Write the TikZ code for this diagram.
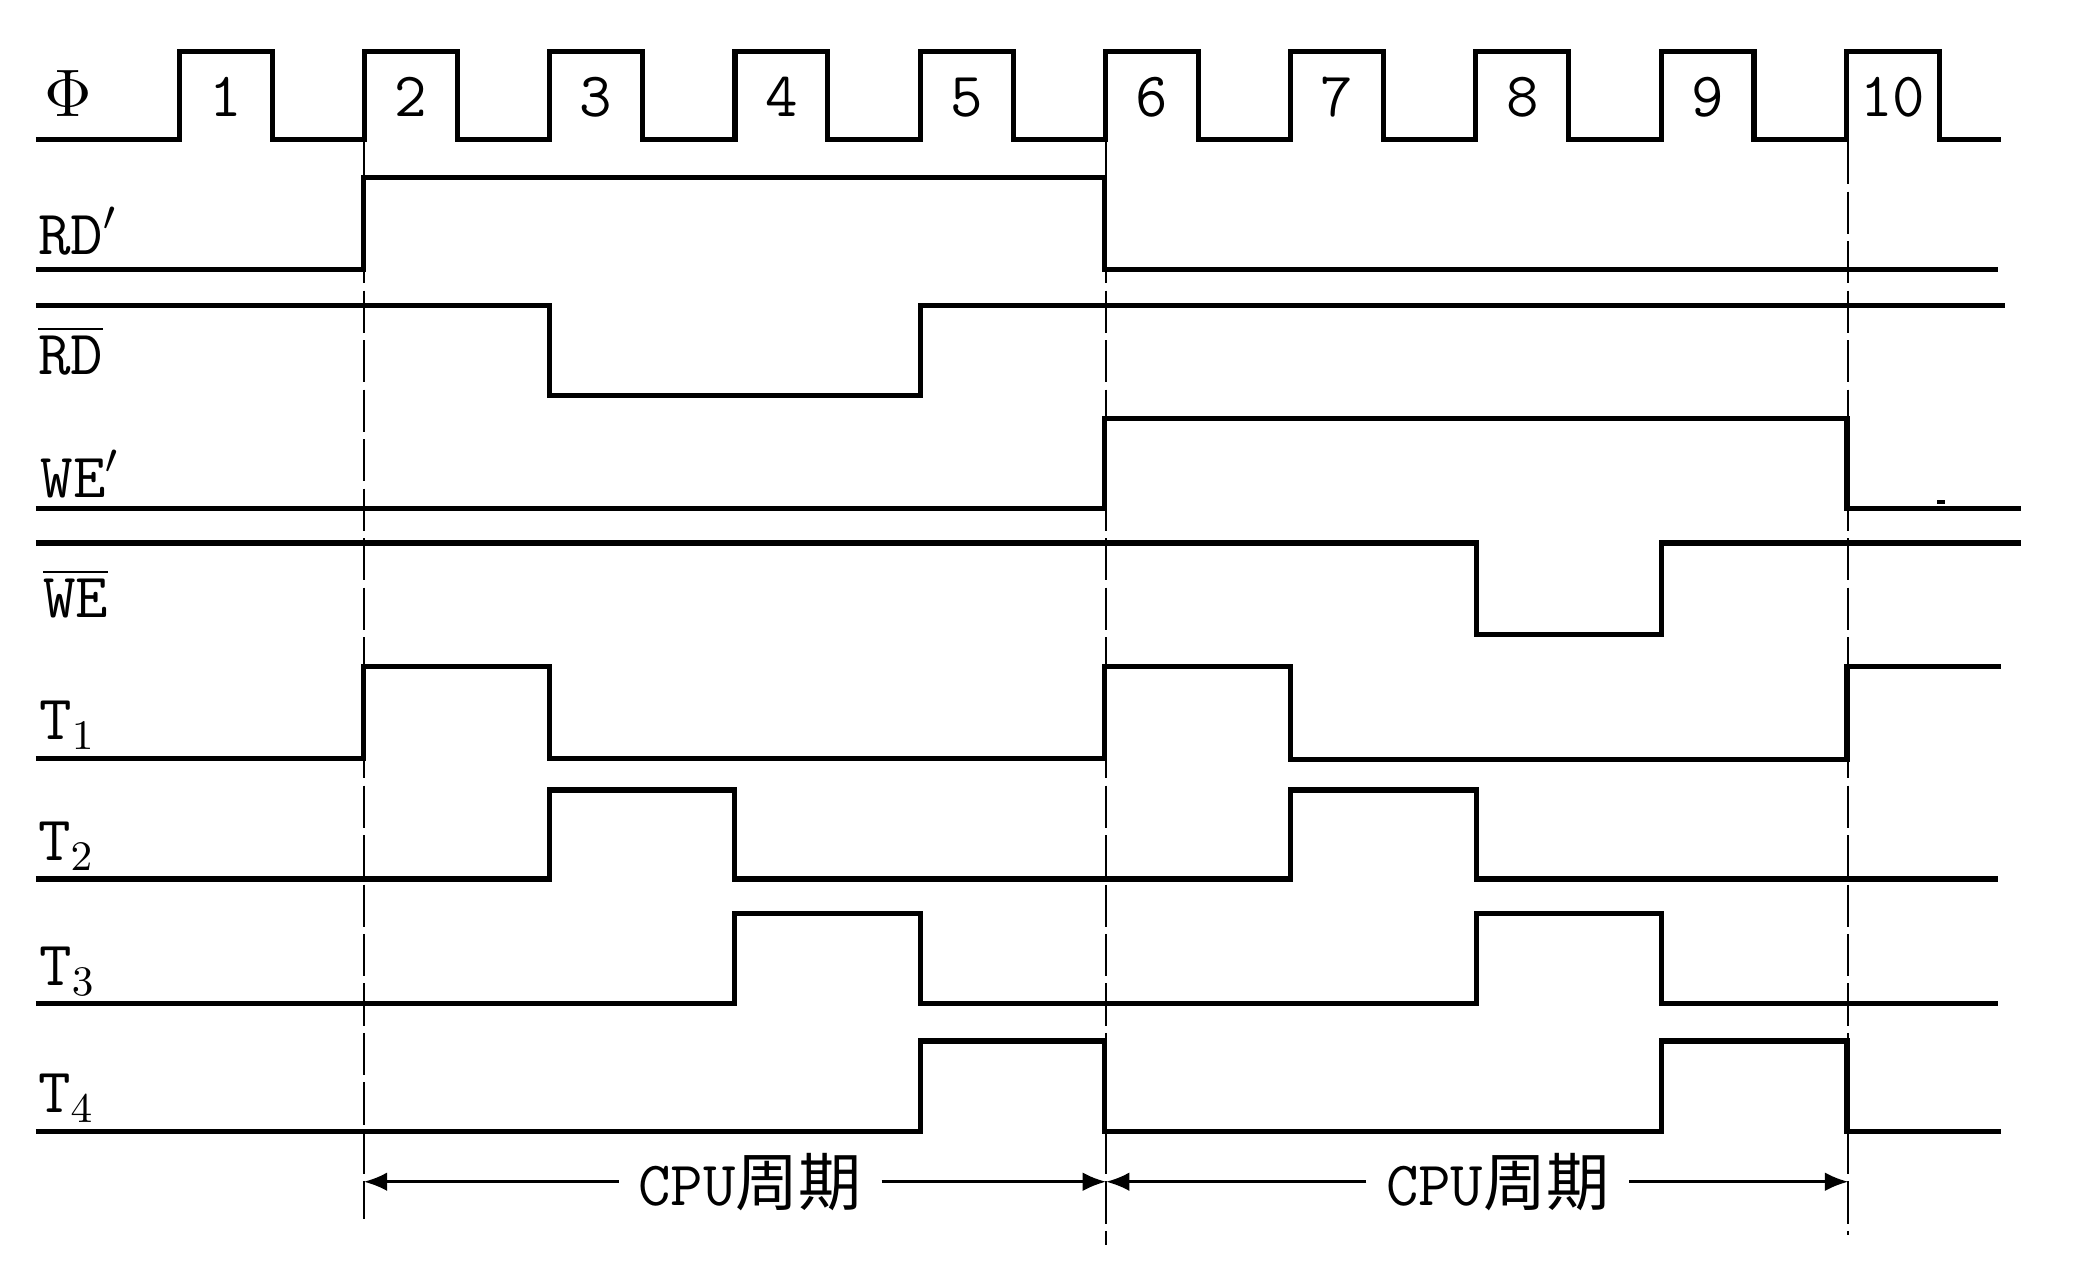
\documentclass[tikz,border=0pt]{standalone}
\usepackage{fontspec}
\usepackage{tikz}
\usetikzlibrary{arrows.meta}
\newfontfamily\cjk{Noto Sans CJK SC}
\newcommand{\sigfont}{\fontsize{13.5}{16}\selectfont\ttfamily}
\tikzset{
  sig/.style={line width=1.1pt,line join=miter},
  guide/.style={line width=0.5pt,dash pattern=on 9pt off 1.6pt},
  cycarrow/.style={-{Latex[length=5pt,width=4pt]},line width=0.6pt},
  siglabel/.style={anchor=base west,inner sep=0pt,font=\sigfont},
  clknum/.style={anchor=base,inner sep=0pt,font=\sigfont},
  cyclabel/.style={inner xsep=4pt,inner ysep=0pt,font=\sigfont},
}

\begin{document}
\begin{tikzpicture}[x=0.01cm,y=-0.01cm]
  \useasboundingbox (0,0) rectangle (1568,961);
  \node[siglabel] (phi) at (33,88)  {$\Phi$};
  \node[siglabel] (rdp) at (28,192) {RD$'$};
  \node[siglabel] (rdn) at (28,282) {$\overline{\mbox{RD}}$};
  \node[siglabel] (wep) at (30,375) {WE$'$};
  \node[siglabel] (wen) at (32,465) {$\overline{\mbox{WE}}$};
  \node[siglabel] (ta)  at (29,557) {T$_1$};
  \node[siglabel] (tb)  at (28,648) {T$_2$};
  \node[siglabel] (tc)  at (29,742) {T$_3$};
  \node[siglabel] (td)  at (28,838) {T$_4$};
  \draw[sig] (27,105) \foreach \k in {1,...,10} {
      -- ({135+(\k-1)*139.5},105) -- ++(0,-66) -- ++(70,0) -- ++(0,66)} -- (1507,105);
  \foreach \k in {1,...,10}
    \node[clknum] (n\k) at ({170+(\k-1)*139.5},88) {\k};
  \draw[sig] (27,203) -- (274,203) -- (274,134) -- (832,134) -- (832,203) -- (1505,203);
  \draw[sig] (27,230) -- (414,230) -- (414,298) -- (693,298) -- (693,230) -- (1510,230);
  \draw[sig] (27,383) -- (832,383) -- (832,315) -- (1391,315) -- (1391,383) -- (1522,383);
  \draw[sig] (27,409) -- (1112,409) -- (1112,478) -- (1251,478) -- (1251,409) -- (1522,409);
  \draw[sig] (27,571) -- (274,571) -- (274,502) -- (414,502) -- (414,571) -- (832,571)
    -- (832,502) -- (972,502) -- (972,572) -- (1391,572) -- (1391,502) -- (1507,502);
  \draw[sig] (27,662) -- (414,662) -- (414,595) -- (553,595) -- (553,662) -- (972,662)
    -- (972,595) -- (1112,595) -- (1112,662) -- (1505,662);
  \draw[sig] (27,756) -- (553,756) -- (553,688) -- (693,688) -- (693,756) -- (1112,756)
    -- (1112,688) -- (1251,688) -- (1251,756) -- (1505,756);
  \draw[sig] (27,852) -- (693,852) -- (693,784) -- (832,784) -- (832,852) -- (1251,852)
    -- (1251,784) -- (1391,784) -- (1391,852) -- (1507,852);
  \draw[line width=0.7pt] (1459,378) -- (1465,378);
  \coordinate (g1t) at (274,107);  \coordinate (g1b) at (274,918);
  \coordinate (g2t) at (833,107);  \coordinate (g2b) at (833,938);
  \coordinate (g3t) at (1392,107); \coordinate (g3b) at (1392,930);
  \draw[guide] (g1t) -- (g1b);
  \draw[guide] (g2t) -- (g2b);
  \draw[guide] (g3t) -- (g3b);
  \node[cyclabel] (cyc1) at (565,890) {CPU{\cjk 周期}};
  \node[cyclabel] (cyc2) at (1128,890) {CPU{\cjk 周期}};
  \draw[cycarrow] (cyc1.west) -- (g1t |- cyc1.west);
  \draw[cycarrow] (cyc1.east) -- (g2t |- cyc1.east);
  \draw[cycarrow] (cyc2.west) -- (g2t |- cyc2.west);
  \draw[cycarrow] (cyc2.east) -- (g3t |- cyc2.east);
\end{tikzpicture}
\end{document}
